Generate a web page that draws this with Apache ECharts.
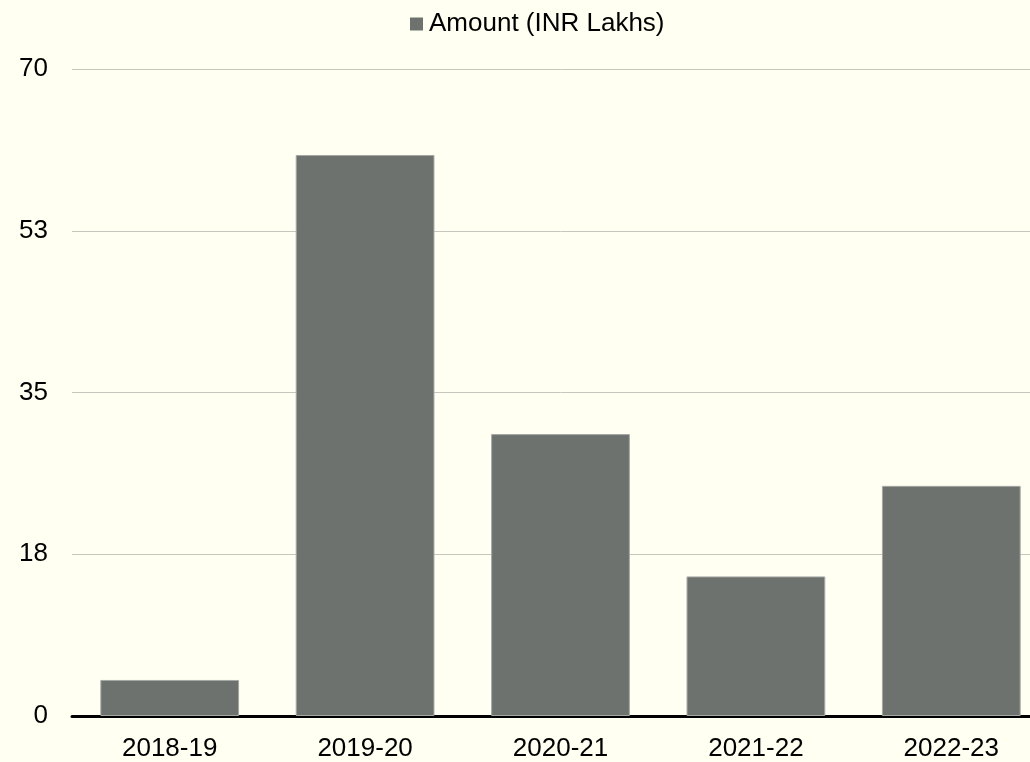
<!DOCTYPE html>
<html>
<head>
<meta charset="utf-8">
<title>Amount (INR Lakhs)</title>
<script src="https://cdn.jsdelivr.net/npm/echarts@6/dist/echarts.min.js"></script>
<style>
  html, body { margin: 0; padding: 0; background: #fffff2; overflow: hidden; }
  /* the plot runs slightly past the right edge of the view */
  #chart { width: 1050px; height: 762px; }
</style>
</head>
<body>
<div id="chart"></div>
<script>
// Fiscal years and amounts (INR Lakhs)
const years = ['2018-19', '2019-20', '2020-21', '2021-22', '2022-23'];
const amounts = [3.9, 60.7, 30.5, 15.1, 24.9];
const seriesName = 'Amount (INR Lakhs)';

// Y axis runs 0..70 in steps of 17.5, shown rounded
const yMin = 0;
const yMax = 70;
const yStep = 17.5;

const chart = echarts.init(document.getElementById('chart'), null, { renderer: 'canvas' });
const font = 'Liberation Sans, Arial, sans-serif';

chart.setOption({
  backgroundColor: '#fffff2',
  animation: false,
  legend: {
    data: [seriesName],
    top: 6,
    left: 405,
    itemWidth: 13,
    itemHeight: 13,
    itemGap: 4,
    icon: 'rect',
    itemStyle: { borderWidth: 0 },
    textStyle: { fontFamily: font, fontSize: 26, color: '#000', padding: [0, 0, 0, 1] }
  },
  grid: {
    left: 72,
    top: 69,
    width: 977,
    height: 647
  },
  xAxis: {
    type: 'category',
    data: years,
    axisLine: { lineStyle: { color: '#000', width: 3 } },
    axisTick: { show: false },
    axisLabel: { fontFamily: font, fontSize: 26, color: '#000', margin: 20 }
  },
  yAxis: {
    type: 'value',
    min: yMin,
    max: yMax,
    interval: yStep,
    axisLine: { show: false },
    axisTick: { show: false },
    splitLine: { lineStyle: { color: '#c6c6be', width: 1 } },
    axisLabel: {
      fontFamily: font,
      fontSize: 26,
      color: '#000',
      margin: 24,
      formatter: v => String(Math.round(v))
    }
  },
  series: [{
    name: seriesName,
    type: 'bar',
    data: amounts,
    barCategoryGap: '29%',
    itemStyle: {
      color: '#6d726f',
      borderColor: '#a4a7a4',
      borderWidth: 1
    }
  }]
});
</script>
</body>
</html>
